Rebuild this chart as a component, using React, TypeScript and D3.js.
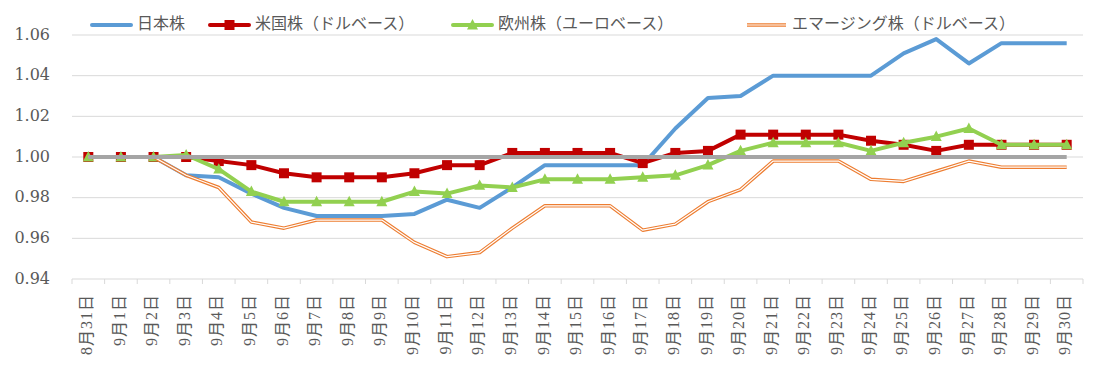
import React from 'react';
import * as d3 from 'd3';

// categories (8/31 - 9/30)
const categories = [
  '8月31日', '9月1日', '9月2日', '9月3日', '9月4日', '9月5日', '9月6日', '9月7日',
  '9月8日', '9月9日', '9月10日', '9月11日', '9月12日', '9月13日', '9月14日', '9月15日',
  '9月16日', '9月17日', '9月18日', '9月19日', '9月20日', '9月21日', '9月22日', '9月23日',
  '9月24日', '9月25日', '9月26日', '9月27日', '9月28日', '9月29日', '9月30日',
];

const japan = [
  1.0, 1.0, 1.0, 0.991, 0.990, 0.982, 0.975, 0.971, 0.971, 0.971, 0.972, 0.979, 0.975, 0.985,
  0.996, 0.996, 0.996, 0.996, 1.014, 1.029, 1.030, 1.040, 1.040, 1.040, 1.040, 1.051, 1.058,
  1.046, 1.056, 1.056, 1.056,
];

const us = [
  1.0, 1.0, 1.0, 1.0, 0.998, 0.996, 0.992, 0.990, 0.990, 0.990, 0.992, 0.996, 0.996, 1.002,
  1.002, 1.002, 1.002, 0.997, 1.002, 1.003, 1.011, 1.011, 1.011, 1.011, 1.008, 1.006, 1.003,
  1.006, 1.006, 1.006, 1.006,
];

const europe = [
  1.0, 1.0, 1.0, 1.001, 0.994, 0.983, 0.978, 0.978, 0.978, 0.978, 0.983, 0.982, 0.986, 0.985,
  0.989, 0.989, 0.989, 0.990, 0.991, 0.996, 1.003, 1.007, 1.007, 1.007, 1.003, 1.007, 1.010,
  1.014, 1.006, 1.006, 1.006,
];

const emerging = [
  1.0, 1.0, 1.0, 0.991, 0.985, 0.968, 0.965, 0.969, 0.969, 0.969, 0.958, 0.951, 0.953, 0.965,
  0.976, 0.976, 0.976, 0.964, 0.967, 0.978, 0.984, 0.998, 0.998, 0.998, 0.989, 0.988, 0.993,
  0.998, 0.995, 0.995, 0.995,
];

const baseline = [
  1, 1, 1, 1, 1, 1, 1, 1, 1, 1, 1, 1, 1, 1, 1, 1, 1, 1, 1, 1, 1, 1, 1, 1, 1, 1, 1, 1, 1, 1, 1,
];

const yTicks = [0.94, 0.96, 0.98, 1.0, 1.02, 1.04, 1.06];

const seriesNames = ['日本株', '米国株（ドルベース）', '欧州株（ユーロベース）', 'エマージング株（ドルベース）'];

const App = () => {
  const width = 1109;
  const height = 368;
  const plot = { left: 72, right: 1083, top: 35, bottom: 279 };

  const xScale = d3.scaleBand().domain(categories).range([plot.left, plot.right]).padding(0);
  const yScale = d3.scaleLinear().domain([0.94, 1.06]).range([plot.bottom, plot.top]);
  const cx = (c: string) => (xScale(c) as number) + xScale.bandwidth() / 2;

  const line = d3
    .line<number>()
    .x((_, i) => cx(categories[i]))
    .y((d) => yScale(d));

  const tickXs = categories.map((c) => xScale(c) as number).concat([plot.right]);

  const labelColor = '#595959';
  const jpFont = "'Noto Sans CJK JP', sans-serif";

  const square = (x: number, y: number, s: number, key: any) => (
    <rect key={key} x={x - s / 2} y={y - s / 2} width={s} height={s} fill="#C00000" />
  );
  const triangle = (x: number, y: number, s: number, key: any) => (
    <path
      key={key}
      d={`M${x},${y - s * 0.55}L${x + s / 2},${y + s * 0.4}L${x - s / 2},${y + s * 0.4}Z`}
      fill="#92D050"
    />
  );

  // legend layout
  const legendY = 25;
  const legendItems = [
    { x: 92, color: '#5B9BD5', name: seriesNames[0] },
    { x: 210, color: '#C00000', name: seriesNames[1] },
    { x: 453, color: '#92D050', name: seriesNames[2] },
    { x: 747, color: '#ED7D31', name: seriesNames[3] },
  ];

  return (
    <div style={{ position: 'absolute', left: 0, top: 0 }}>
      <svg width={width} height={height} style={{ display: 'block', background: '#fff' }}>
        {/* gridlines */}
        {yTicks.map((t) => (
          <line
            key={t}
            x1={plot.left}
            x2={plot.right}
            y1={yScale(t)}
            y2={yScale(t)}
            stroke="#D9D9D9"
            strokeWidth={1}
          />
        ))}
        {/* category ticks */}
        {tickXs.map((x, i) => (
          <line key={i} x1={x} x2={x} y1={plot.bottom} y2={plot.bottom + 5} stroke="#D9D9D9" />
        ))}
        {/* y labels */}
        {yTicks.map((t) => (
          <text
            key={t}
            x={50}
            y={yScale(t)}
            textAnchor="end"
            dominantBaseline="middle"
            fontFamily="'DejaVu Serif', serif"
            fontSize={16}
            fill={labelColor}
          >
            {t.toFixed(2)}
          </text>
        ))}
        {/* x labels */}
        {categories.map((c) => (
          <text
            key={c}
            transform={`translate(${cx(c)},${plot.bottom + 15}) rotate(-90)`}
            textAnchor="end"
            dominantBaseline="middle"
            fontFamily="'Liberation Serif', 'Noto Sans CJK JP', serif"
            fontSize={16}
            letterSpacing={1}
            fill={labelColor}
          >
            {c}
          </text>
        ))}

        {/* series */}
        <path d={line(japan) as string} fill="none" stroke="#5B9BD5" strokeWidth={4} strokeLinejoin="round" />
        <path d={line(us) as string} fill="none" stroke="#C00000" strokeWidth={4} strokeLinejoin="round" />
        {us.map((v, i) => square(cx(categories[i]), yScale(v), 10, 'us' + i))}
        <path d={line(europe) as string} fill="none" stroke="#92D050" strokeWidth={4} strokeLinejoin="round" />
        {europe.map((v, i) => triangle(cx(categories[i]), yScale(v), 11, 'eu' + i))}
        <path d={line(emerging) as string} fill="none" stroke="#ED7D31" strokeWidth={3.5} strokeLinejoin="round" />
        <path d={line(emerging) as string} fill="none" stroke="#fff" strokeWidth={1.2} strokeLinejoin="round" />
        <path d={line(baseline) as string} fill="none" stroke="#A5A5A5" strokeWidth={4} />

        {/* legend */}
        {legendItems.map((it, i) => (
          <g key={it.name}>
            {i === 3 ? (
              <>
                <line x1={it.x} x2={it.x + 39} y1={legendY} y2={legendY} stroke={it.color} strokeWidth={3.5} />
                <line x1={it.x} x2={it.x + 39} y1={legendY} y2={legendY} stroke="#fff" strokeWidth={1.2} />
              </>
            ) : (
              <line
                x1={it.x}
                x2={it.x + 39}
                y1={legendY}
                y2={legendY}
                stroke={it.color}
                strokeWidth={4}
                strokeLinecap="round"
              />
            )}
            {i === 1 && square(it.x + 19.5, legendY, 10, 'lg-sq')}
            {i === 2 && triangle(it.x + 19.5, legendY, 11, 'lg-tr')}
            <text
              x={it.x + 45}
              y={legendY}
              dominantBaseline="middle"
              fontFamily={jpFont}
              fontSize={16}
              fill={labelColor}
            >
              {it.name}
            </text>
          </g>
        ))}
      </svg>
    </div>
  );
};

export default App;
